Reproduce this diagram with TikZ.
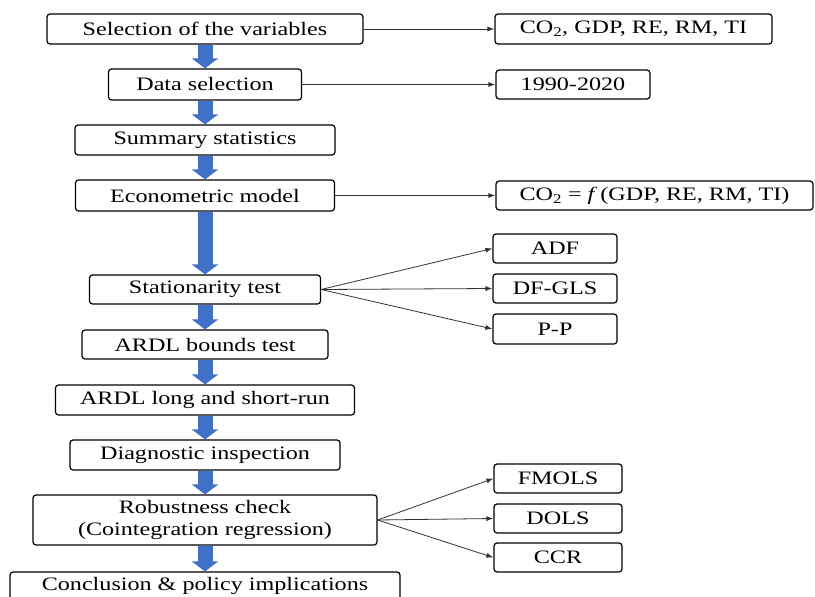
\documentclass[tikz,border=0pt]{standalone}
\usepackage{fontspec}
\setmainfont{Liberation Serif}[FakeStretch=1.27]
\usetikzlibrary{arrows.meta}
\definecolor{flowblue}{HTML}{4070C8}

\begin{document}
\begin{tikzpicture}[x=1pt, y=-1pt,
  box/.style={draw, line width=1.2pt, rounded corners=3pt, inner sep=0pt, align=center, font=\fontsize{19}{22}\selectfont},
  flow/.style={draw=flowblue, line width=15pt, -{Triangle[width=26pt, length=10pt]}},
  link/.style={draw=black!80, line width=0.8pt, -{Latex[length=7pt, width=5pt]}}]
% Set the page frame
\clip (0,0) rectangle (815,597);

% Main column of steps
\node[box, minimum width=316pt, minimum height=30pt] (sel) at (205,29) {Selection of the variables};
\node[box, minimum width=193pt, minimum height=31pt] (data) at (205,84.5) {Data selection};
\node[box, minimum width=260pt, minimum height=30pt] (summ) at (205,140) {Summary statistics};
\node[box, minimum width=259pt, minimum height=31pt] (econ) at (205,195.5) {Econometric model};
\node[box, minimum width=231pt, minimum height=29pt] (stat) at (205,289.5) {Stationarity test};
\node[box, minimum width=246pt, minimum height=29pt] (bounds) at (205,344.5) {ARDL bounds test};
\node[box, minimum width=299pt, minimum height=30pt] (ardl) at (205,400) {ARDL long and short-run};
\node[box, minimum width=270pt, minimum height=30pt] (diag) at (205,455) {Diagnostic inspection};
\node[box, minimum width=344pt, minimum height=50pt] (rob) at (205,520) {Robustness check\\(Cointegration regression)};
\node[box, minimum width=390pt, minimum height=28pt] (conc) at (205,586) {Conclusion \& policy implications};

% Side boxes
\node[box, minimum width=277pt, minimum height=30pt] (vars) at (633.5,29) {CO\textsubscript{2}, GDP, RE, RM, TI};
\node[box, minimum width=154pt, minimum height=29pt] (period) at (573,84.5) {1990-2020};
\node[box, minimum width=317pt, minimum height=29pt] (model) at (654.5,195.5) {CO\textsubscript{2} = \textit{f}\,(GDP, RE, RM, TI)};
\node[box, minimum width=124pt, minimum height=29pt] (adf) at (555,248.5) {ADF};
\node[box, minimum width=124pt, minimum height=29pt] (dfgls) at (555,288.5) {DF-GLS};
\node[box, minimum width=124pt, minimum height=30pt] (pp) at (555,329) {P-P};
\node[box, minimum width=128pt, minimum height=29pt] (fmols) at (558,478.5) {FMOLS};
\node[box, minimum width=128pt, minimum height=29pt] (dols) at (558,518.5) {DOLS};
\node[box, minimum width=128pt, minimum height=29pt] (ccr) at (558,557.5) {CCR};

% Blue block arrows
\draw[flow] (sel) -- (data);
\draw[flow] (data) -- (summ);
\draw[flow] (summ) -- (econ);
\draw[flow] (econ) -- (stat);
\draw[flow] (stat) -- (bounds);
\draw[flow] (bounds) -- (ardl);
\draw[flow] (ardl) -- (diag);
\draw[flow] (diag) -- (rob);
\draw[flow] (rob) -- (conc);

% Thin connectors to the side boxes
\draw[link] (sel) -- (vars);
\draw[link] (data) -- (period);
\draw[link] (econ) -- (model);
\draw[link] (stat.east) -- (adf.west);
\draw[link] (stat.east) -- (dfgls.west);
\draw[link] (stat.east) -- (pp.west);
\draw[link] (rob.east) -- (fmols.west);
\draw[link] (rob.east) -- (dols.west);
\draw[link] (rob.east) -- (ccr.west);
\end{tikzpicture}
\end{document}
